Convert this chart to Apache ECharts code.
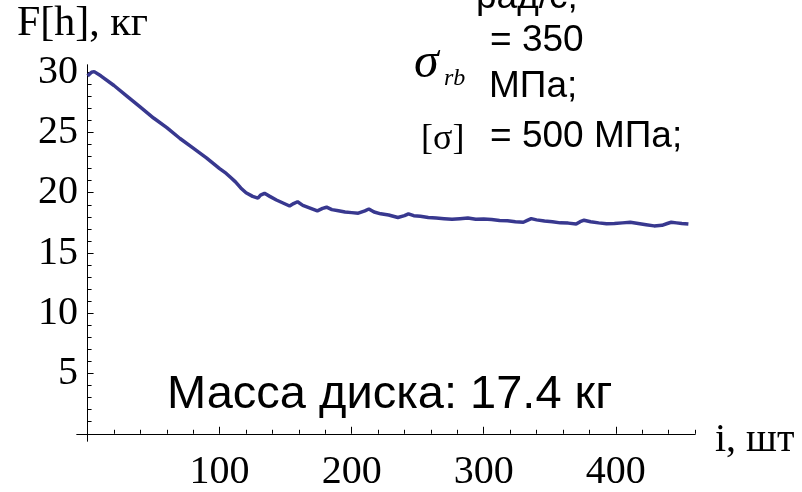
<!DOCTYPE html>
<html>
<head>
<meta charset="utf-8">
<script src="https://cdn.jsdelivr.net/npm/echarts@6/dist/echarts.min.js"></script>
<style>
html,body{margin:0;padding:0;background:#fff;}
#chart{width:802px;height:492px;}
</style>
</head>
<body>
<div id="chart"></div>
<script>
// Data
const iValues = [0,3,5,10,20,30,40,50,60,70,80,90,100,105,108,112,116,120,125,129,131,134,138,143,148,153,156,159,163,168,174,178,181,185,190,195,200,205,210,213,217,222,228,235,240,243,247,252,258,264,270,276,282,288,294,300,306,312,318,324,330,333,336,340,346,352,358,364,370,373,376,381,387,393,399,405,411,417,423,429,435,439,442,446,450,455];
const fValues = [29.7,30.0,30.05,29.7,28.9,28.0,27.1,26.2,25.4,24.5,23.7,22.9,22.0,21.6,21.3,20.9,20.4,20.0,19.7,19.55,19.8,19.95,19.7,19.4,19.15,18.9,19.1,19.25,18.95,18.75,18.5,18.7,18.8,18.6,18.5,18.4,18.35,18.3,18.5,18.65,18.4,18.25,18.15,17.95,18.1,18.25,18.1,18.05,17.95,17.9,17.85,17.8,17.85,17.9,17.8,17.82,17.78,17.7,17.68,17.6,17.55,17.7,17.85,17.75,17.65,17.6,17.5,17.48,17.4,17.6,17.72,17.6,17.5,17.42,17.45,17.5,17.55,17.45,17.35,17.25,17.3,17.45,17.55,17.5,17.45,17.4];
const xMajorTicks = [100,200,300,400];
const xMinorTicks = [20,40,60,80,120,140,160,180,220,240,260,280,320,340,360,380,420,440,460];
const yMajorTicks = [5,10,15,20,25,30];
const yMinorTicks = [1,2,3,4,6,7,8,9,11,12,13,14,16,17,18,19,21,22,23,24,26,27,28,29];
const yAxisTitle = 'F[h], кг';
const xAxisTitle = 'i, шт';
const noteLines = ['рад/с;', '= 350', 'МПа;', '= 500 МПа;'];
const sigmaText = 'σ';
const sigmaSub = 'rb';
const sigmaBracket = '[σ]';
const massText = 'Масса диска: 17.4 кг';

const serif = "'Liberation Serif','Times New Roman',serif";
const sans = "'Liberation Sans',Arial,sans-serif";

const data = iValues.map((v, k) => [v, fValues[k]]);

const chart = echarts.init(document.getElementById('chart'), null, {renderer: 'canvas'});

const axisLineStyle = {show: true, onZero: true, lineStyle: {color: '#000', width: 1}};

chart.setOption({
  animation: false,
  backgroundColor: '#fff',
  grid: {left: 77, right: 107, top: 65, bottom: 40, containLabel: false},
  xAxis: [
    {
      type: 'value', min: -8, max: 460, position: 'bottom',
      axisLine: axisLineStyle,
      splitLine: {show: false},
      axisTick: {show: true, inside: true, length: 7, customValues: xMajorTicks, lineStyle: {color: '#000'}},
      axisLabel: {show: true, customValues: xMajorTicks, fontFamily: serif, fontSize: 40, color: '#000', margin: 11}
    },
    {
      type: 'value', min: -8, max: 460, position: 'bottom',
      axisLine: axisLineStyle,
      splitLine: {show: false},
      axisTick: {show: true, inside: true, length: 4, customValues: xMinorTicks, lineStyle: {color: '#000'}},
      axisLabel: {show: false}
    }
  ],
  yAxis: [
    {
      type: 'value', min: -0.6, max: 30.6, position: 'left',
      axisLine: axisLineStyle,
      splitLine: {show: false},
      axisTick: {show: true, inside: true, length: 6, customValues: yMajorTicks, lineStyle: {color: '#000'}},
      axisLabel: {show: true, customValues: yMajorTicks, fontFamily: serif, fontSize: 40, color: '#000', margin: -1}
    },
    {
      type: 'value', min: -0.6, max: 30.6, position: 'left',
      axisLine: axisLineStyle,
      splitLine: {show: false},
      axisTick: {show: true, inside: true, length: 4, customValues: yMinorTicks, lineStyle: {color: '#000'}},
      axisLabel: {show: false}
    }
  ],
  series: [{
    type: 'line',
    xAxisIndex: 0, yAxisIndex: 0,
    data: data,
    showSymbol: false,
    symbol: 'none',
    lineStyle: {color: '#38388f', width: 3.5},
    z: 5
  }],
  graphic: [
    {type: 'text', left: 17, top: 3, style: {text: yAxisTitle, font: '42px ' + serif, fill: '#000'}},
    {type: 'text', x: 715, y: 440, style: {text: xAxisTitle, font: '40px ' + serif, fill: '#000', verticalAlign: 'middle'}},
    {type: 'text', x: 476, y: -2, style: {text: noteLines[0], font: '37px ' + sans, fill: '#000', verticalAlign: 'middle'}},
    {type: 'text', x: 490, y: 41, style: {text: noteLines[1], font: '37px ' + sans, fill: '#000', verticalAlign: 'middle'}},
    {type: 'text', x: 489, y: 87, style: {text: noteLines[2], font: '37px ' + sans, fill: '#000', verticalAlign: 'middle'}},
    {type: 'text', x: 490, y: 137, style: {text: noteLines[3], font: '37px ' + sans, fill: '#000', verticalAlign: 'middle'}},
    {type: 'text', x: 414, y: 64, style: {text: sigmaText, font: 'italic 50px ' + serif, fill: '#000', verticalAlign: 'middle'}},
    {type: 'text', x: 444, y: 79, style: {text: sigmaSub, font: 'italic 24px ' + serif, fill: '#000', verticalAlign: 'middle'}},
    {type: 'text', x: 421, y: 140, style: {text: sigmaBracket, font: '36px ' + serif, fill: '#000', verticalAlign: 'middle'}},
    {type: 'text', x: 167, y: 395, style: {text: massText, font: '47px ' + sans, fill: '#000', verticalAlign: 'middle'}}
  ]
});
</script>
</body>
</html>
